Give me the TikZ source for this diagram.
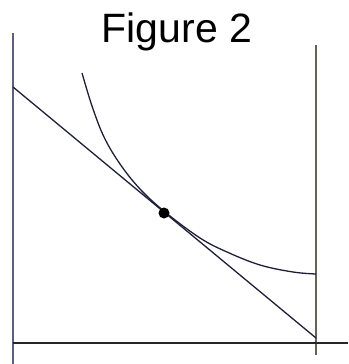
\documentclass[tikz,border=0pt]{standalone}
\usepackage{fontspec}
\setmainfont{Liberation Sans}
\definecolor{sidecol}{RGB}{95,95,125}
\definecolor{rightcol}{RGB}{100,100,85}
\definecolor{curvecol}{RGB}{30,30,55}
\begin{document}
\begin{tikzpicture}[x=1pt,y=-1pt,
  axisline/.style={line width=1.8pt,color=black!85},
  sideline/.style={line width=1.6pt,color=sidecol},
  rightline/.style={line width=1.6pt,color=rightcol},
  curveline/.style={line width=1.3pt,color=curvecol},
  titletext/.style={font=\fontsize{41}{46}\selectfont,anchor=base,inner sep=0pt},
  dotnode/.style={circle,fill=black,inner sep=0pt,minimum size=11pt}]
\useasboundingbox (0,0) rectangle (348,364);
\coordinate (lt) at (13,33);
\coordinate (lb) at (13,364);
\coordinate (rt) at (316,45);
\coordinate (rb) at (316,355);
\coordinate (al) at (13,343);
\coordinate (ar) at (348,343);
\coordinate (bs) at (13,87);
\coordinate (be) at (316,338);
\node[titletext] (title) at (177,42) {Figure 2};
\draw[sideline] (lt) -- (lb);
\draw[rightline] (rt) -- (rb);
\draw[axisline] (al) -- (ar);
\draw[curveline] (bs) -- (be);
\draw[curveline] plot[smooth,tension=0.6] coordinates {(82,73) (92,106) (104,137) (120,164) (140,189) (165,212) (200,238) (227,252) (260,265) (293,272) (316,274)};
\node[dotnode] (dot) at (164,213) {};
\end{tikzpicture}
\end{document}
